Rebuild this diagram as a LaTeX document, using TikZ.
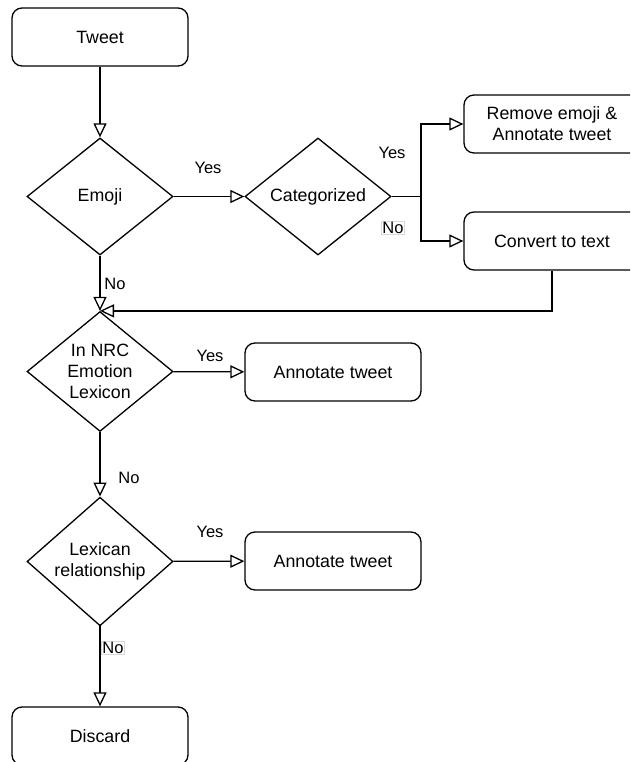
\documentclass[tikz,border=0pt]{standalone}
\usepackage{fontspec}
\setmainfont{Liberation Sans}
\usetikzlibrary{shapes.geometric,arrows.meta}
\begin{document}
\begin{tikzpicture}[x=1pt,y=-1pt,
  font=\fontsize{17.8}{21}\selectfont,
  line width=1.3pt,
  procbox/.style={draw, rounded corners=10pt, minimum width=176pt, minimum height=58pt, align=center, inner sep=0pt},
  decision/.style={draw, diamond, minimum width=146pt, minimum height=117pt, inner sep=0pt, align=center},
  lbl/.style={font=\fontsize{16.5}{19}\selectfont, inner sep=1pt},
  lblbox/.style={lbl, draw=black!15, line width=0.6pt, fill=white},
  flow/.style={-{Triangle[open, length=14pt, width=13pt]}, line width=1.3pt}]
\clip (0,0) rectangle (630,762);
\useasboundingbox (0,0) rectangle (630,762);
\node[procbox] (tweet) at (100,37) {Tweet};
\node[decision] (emoji) at (100,196.5) {Emoji};
\node[decision] (cat) at (318,196.5) {Categorized};
\node[procbox] (rem) at (552,124) {Remove emoji \&\\Annotate tweet};
\node[procbox] (conv) at (552,241) {Convert to text};
\node[decision] (nrc) at (100,371.5) {In NRC\\Emotion\\Lexicon};
\node[procbox] (ann1) at (333,372) {Annotate tweet};
\node[decision] (lex) at (100,561.5) {Lexican\\relationship};
\node[procbox] (ann2) at (333,561) {Annotate tweet};
\node[procbox] (disc) at (100,736) {Discard};
\coordinate (split) at (421,196.5);

\draw[flow] (tweet) -- (emoji);
\draw[flow] (emoji) -- (cat);
\draw (cat.east) -- (split);
\draw[flow] (split) |- (rem.west);
\draw[flow] (split) |- (conv.west);
\draw[flow] (conv.south) |- (nrc.north);
\draw[flow] (emoji) -- (nrc);
\draw[flow] (nrc) -- (ann1);
\draw[flow] (nrc) -- (lex);
\draw[flow] (lex) -- (ann2);
\draw[flow] (lex) -- (disc);

\node[lbl] (y1) at (208,168) {Yes};
\node[lbl] (y2) at (392,153) {Yes};
\node[lblbox] (n2) at (393,228) {No};
\node[lbl] (n1) at (115,284) {No};
\node[lbl] (y3) at (210,356) {Yes};
\node[lbl] (n3) at (129,478) {No};
\node[lbl] (y4) at (210,532) {Yes};
\node[lblbox] (n4) at (113,648) {No};
\end{tikzpicture}
\end{document}
